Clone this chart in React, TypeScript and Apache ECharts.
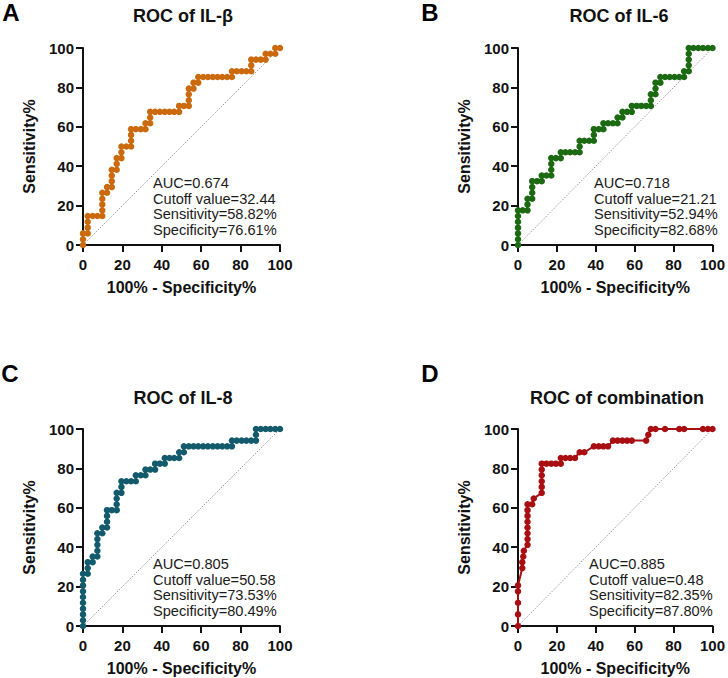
import React, { useEffect, useRef } from "react";
import * as echarts from "echarts";

// 100% - Specificity% (x) and Sensitivity% (y) pairs
const rocIL1b: number[][] = [
  [0, 0], [0, 2.9], [0, 5.9], [2.4, 5.9], [2.4, 8.8], [2.4, 11.8], [2.4, 14.7], [4.9, 14.7], [7.3, 14.7], [9.8, 14.7],
  [9.8, 17.6], [9.8, 20.6], [9.8, 23.5], [9.8, 26.5], [12.2, 26.5], [12.2, 29.4], [14.6, 29.4], [14.6, 32.4], [14.6, 35.3],
  [14.6, 38.2], [17.1, 38.2], [17.1, 41.2], [17.1, 44.1], [19.5, 44.1], [19.5, 47.1], [19.5, 50], [22, 50], [24.4, 50],
  [24.4, 52.9], [24.4, 55.9], [24.4, 58.8], [26.8, 58.8], [29.3, 58.8], [31.7, 58.8], [31.7, 61.8], [34.1, 61.8], [34.1, 64.7],
  [34.1, 67.6], [36.6, 67.6], [39, 67.6], [41.5, 67.6], [43.9, 67.6], [46.3, 67.6], [48.8, 67.6], [48.8, 70.6], [51.2, 70.6],
  [53.7, 70.6], [53.7, 73.5], [53.7, 76.5], [53.7, 79.4], [56.1, 79.4], [56.1, 82.4], [58.5, 82.4], [58.5, 85.3], [61, 85.3],
  [63.4, 85.3], [65.9, 85.3], [68.3, 85.3], [70.7, 85.3], [73.2, 85.3], [75.6, 85.3], [75.6, 88.2], [78, 88.2], [80.5, 88.2],
  [82.9, 88.2], [85.4, 88.2], [85.4, 91.2], [85.4, 94.1], [87.8, 94.1], [90.2, 94.1], [92.7, 94.1], [92.7, 97.1], [95.1, 97.1],
  [97.6, 97.1], [97.6, 100], [100, 100],
];

const rocIL6: number[][] = [
  [0, 0], [0, 2.9], [0, 5.9], [0, 8.8], [0, 11.8], [0, 14.7], [0, 17.6], [2.4, 17.6], [4.9, 17.6], [4.9, 20.6], [4.9, 23.5],
  [7.3, 23.5], [7.3, 26.5], [7.3, 29.4], [7.3, 32.4], [9.8, 32.4], [12.2, 32.4], [12.2, 35.3], [14.6, 35.3], [17.1, 35.3],
  [17.1, 38.2], [17.1, 41.2], [17.1, 44.1], [19.5, 44.1], [22, 44.1], [22, 47.1], [24.4, 47.1], [26.8, 47.1], [29.3, 47.1],
  [31.7, 47.1], [31.7, 50], [31.7, 52.9], [34.1, 52.9], [36.6, 52.9], [39, 52.9], [39, 55.9], [39, 58.8], [41.5, 58.8],
  [43.9, 58.8], [43.9, 61.8], [46.3, 61.8], [48.8, 61.8], [51.2, 61.8], [51.2, 64.7], [53.7, 64.7], [53.7, 67.6], [56.1, 67.6],
  [58.5, 67.6], [58.5, 70.6], [61, 70.6], [63.4, 70.6], [65.9, 70.6], [68.3, 70.6], [68.3, 73.5], [68.3, 76.5], [70.7, 76.5],
  [70.7, 79.4], [70.7, 82.4], [73.2, 82.4], [73.2, 85.3], [75.6, 85.3], [78, 85.3], [80.5, 85.3], [82.9, 85.3], [85.4, 85.3],
  [85.4, 88.2], [87.8, 88.2], [87.8, 91.2], [87.8, 94.1], [87.8, 97.1], [87.8, 100], [90.2, 100], [92.7, 100], [95.1, 100],
  [97.6, 100], [100, 100],
];

const rocIL8: number[][] = [
  [0, 0], [0, 2.9], [0, 5.9], [0, 8.8], [0, 11.8], [0, 14.7], [0, 17.6], [0, 20.6], [0, 23.5], [0, 26.5], [2.4, 26.5],
  [2.4, 29.4], [2.4, 32.4], [4.9, 32.4], [4.9, 35.3], [7.3, 35.3], [7.3, 38.2], [7.3, 41.2], [7.3, 44.1], [7.3, 47.1],
  [9.8, 47.1], [9.8, 50], [12.2, 50], [12.2, 52.9], [12.2, 55.9], [12.2, 58.8], [14.6, 58.8], [17.1, 58.8], [17.1, 61.8],
  [17.1, 64.7], [17.1, 67.6], [19.5, 67.6], [19.5, 70.6], [19.5, 73.5], [22, 73.5], [24.4, 73.5], [26.8, 73.5], [26.8, 76.5],
  [29.3, 76.5], [31.7, 76.5], [31.7, 79.4], [34.1, 79.4], [36.6, 79.4], [36.6, 82.4], [39, 82.4], [41.5, 82.4], [41.5, 85.3],
  [43.9, 85.3], [46.3, 85.3], [48.8, 85.3], [48.8, 88.2], [51.2, 88.2], [51.2, 91.2], [53.7, 91.2], [56.1, 91.2], [58.5, 91.2],
  [61, 91.2], [63.4, 91.2], [65.9, 91.2], [68.3, 91.2], [70.7, 91.2], [73.2, 91.2], [75.6, 91.2], [75.6, 94.1], [78, 94.1],
  [80.5, 94.1], [82.9, 94.1], [85.4, 94.1], [87.8, 94.1], [87.8, 97.1], [87.8, 100], [90.2, 100], [92.7, 100], [95.1, 100],
  [97.6, 100], [100, 100],
];

const rocCombination: number[][] = [
  [0, 0], [0, 5.9], [0, 11.8], [0, 17.6], [0, 20.6], [2.2, 29.4], [2.2, 32.4], [2.7, 35.3], [3, 38.2], [4.9, 41.2],
  [4.9, 44.1], [4.9, 47.1], [4.9, 50], [4.9, 52.9], [4.9, 55.9], [4.9, 58.8], [4.9, 61.8], [7.3, 61.8], [8.1, 64.7],
  [12.2, 67.6], [12.2, 70.6], [12.2, 73.5], [12.2, 76.5], [12.2, 79.4], [12.2, 82.4], [14.6, 82.4], [17.1, 82.4], [19.5, 82.4],
  [22, 82.4], [22, 85.3], [24.4, 85.3], [26.8, 85.3], [29.3, 85.3], [31.7, 88.2], [34.1, 88.2], [39, 91.2], [41.5, 91.2],
  [43.9, 91.2], [46.3, 91.2], [48.8, 94.1], [51.2, 94.1], [53.7, 94.1], [56.1, 94.1], [58.5, 94.1], [65.9, 94.1], [67, 97.1],
  [68.3, 100], [70.7, 100], [75.6, 100], [82.9, 100], [85.4, 100], [95.1, 100], [97.6, 100], [100, 100],
];

const panelData = [rocIL1b, rocIL6, rocIL8, rocCombination];
const panelTitles = ["ROC of IL-β", "ROC of IL-6", "ROC of IL-8", "ROC of combination"];
const panelLetters = ["A", "B", "C", "D"];
const panelColors = ["#CB6A0C", "#1B6A12", "#135B6C", "#A80E12"];
const aucLabels = ["AUC=0.674", "AUC=0.718", "AUC=0.805", "AUC=0.885"];
const cutoffLabels = ["Cutoff value=32.44", "Cutoff value=21.21", "Cutoff value=50.58", "Cutoff value=0.48"];
const sensitivityLabels = ["Sensitivity=58.82%", "Sensitivity=52.94%", "Sensitivity=73.53%", "Sensitivity=82.35%"];
const specificityLabels = ["Specificity=76.61%", "Specificity=82.68%", "Specificity=80.49%", "Specificity=87.80%"];
const diagonal = [[0, 0], [100, 100]];
const xAxisTitle = "100% - Specificity%";
const yAxisTitle = "Sensitivity%";

const FONT = "'Liberation Sans', Arial, Helvetica, sans-serif";

// layout
const grids = [
  { left: 83, top: 48, width: 197, height: 197 },
  { left: 518, top: 48, width: 198, height: 197 },
  { left: 83, top: 429, width: 197, height: 197 },
  { left: 518, top: 429, width: 198, height: 197 },
];
const titlePos = [[183, 16], [619, 16], [183, 398], [617, 398]];
const letterPos = [[11, 12], [430, 12], [10, 373], [430, 373]];
const notePos = [[153, 183], [594, 183], [153, 564], [589, 564]];

export default function App() {
  const ref = useRef<HTMLDivElement>(null);

  useEffect(() => {
    if (!ref.current) return;
    const chart = echarts.init(ref.current, null, { renderer: "svg" });

    const axisCommon = {
      type: "value" as const,
      min: 0,
      max: 100,
      interval: 20,
      splitLine: { show: false },
      axisLine: { show: true, onZero: false, lineStyle: { color: "#111", width: 2 } },
      axisTick: { show: true, length: 7, lineStyle: { color: "#111", width: 2 } },
      axisLabel: { fontFamily: FONT, fontWeight: "bold" as const, fontSize: 15, color: "#111" },
      nameLocation: "middle" as const,
      nameTextStyle: { fontFamily: FONT, fontWeight: "bold" as const, fontSize: 16, color: "#111" },
    };

    const xAxis = grids.map((_, i) => ({
      ...axisCommon,
      gridIndex: i,
      position: "bottom",
      name: xAxisTitle,
      nameGap: 34,
      axisLabel: { ...axisCommon.axisLabel, margin: 12 },
    }));
    const yAxis = grids.map((_, i) => ({
      ...axisCommon,
      gridIndex: i,
      position: "left",
      name: yAxisTitle,
      nameGap: 46,
      nameRotate: 90,
      axisLabel: { ...axisCommon.axisLabel, margin: 9 },
    }));

    const series: any[] = [];
    panelData.forEach((d, i) => {
      series.push({
        type: "line",
        xAxisIndex: i,
        yAxisIndex: i,
        data: diagonal,
        symbol: "none",
        silent: true,
        lineStyle: { color: "#808080", width: 0.8, type: [1.5, 1.5] },
        z: 1,
      });
      series.push({
        type: "line",
        name: panelTitles[i],
        xAxisIndex: i,
        yAxisIndex: i,
        data: d,
        clip: false,
        symbol: "circle",
        symbolSize: 6.5,
        itemStyle: { color: panelColors[i] },
        lineStyle: { color: panelColors[i], width: 2 },
        z: 3,
      });
    });

    const graphic: any[] = [];
    panelData.forEach((_, i) => {
      graphic.push({
        type: "text",
        x: titlePos[i][0],
        y: titlePos[i][1],
        style: {
          text: panelTitles[i],
          font: `bold 18px ${FONT}`,
          fill: "#111",
          textAlign: "center",
          textVerticalAlign: "middle",
        },
      });
      graphic.push({
        type: "text",
        x: letterPos[i][0],
        y: letterPos[i][1],
        style: {
          text: panelLetters[i],
          font: `bold 24px ${FONT}`,
          fill: "#000",
          textAlign: "center",
          textVerticalAlign: "middle",
        },
      });
      const lines = [aucLabels[i], cutoffLabels[i], sensitivityLabels[i], specificityLabels[i]];
      lines.forEach((t, k) => {
        graphic.push({
          type: "text",
          x: notePos[i][0],
          y: notePos[i][1] + k * 15.5,
          style: {
            text: t,
            font: `14.6px ${FONT}`,
            fill: "#1a1a1a",
            textAlign: "left",
            textVerticalAlign: "middle",
          },
        });
      });
    });

    chart.setOption({
      animation: false,
      backgroundColor: "#ffffff",
      grid: grids.map((g) => ({ ...g, containLabel: false })),
      xAxis,
      yAxis,
      series,
      graphic,
    });

    return () => chart.dispose();
  }, []);

  return (
    <div
      ref={ref}
      style={{ position: "fixed", left: 0, top: 0, width: 728, height: 678, background: "#fff" }}
    />
  );
}
